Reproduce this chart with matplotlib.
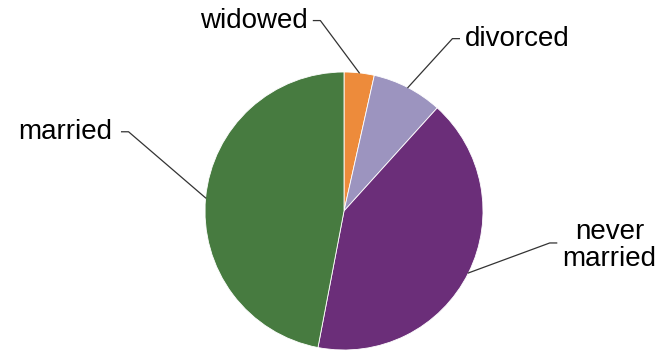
import matplotlib.pyplot as plt
import numpy as np

plt.rcParams['font.family'] = ['Liberation Sans', 'DejaVu Sans']

labels = ['widowed', 'divorced', 'never\nmarried', 'married']
values = [3.5, 8.2, 41.3, 47.0]
colors = ['#ED8B3B', '#9C94BF', '#6B2E79', '#477B40']

# elbow of leader line and text anchor (data units, pie radius = 1)
elbows = [(-0.17, 1.37), (0.78, 1.24), (1.48, -0.23), (-1.55, 0.57)]
text_pos = [(-0.26, 1.37, 'right'), (0.87, 1.24, 'left'), (1.91, -0.25, 'center'), (-1.67, 0.57, 'right')]

fig = plt.figure(figsize=(6.6, 3.51), dpi=100)
ax = fig.add_axes([205 / 660, 1 / 351, 278 / 660, 278 / 351])
wedges, _ = ax.pie(values, colors=colors, startangle=90, counterclock=False,
                   wedgeprops=dict(edgecolor='white', linewidth=0.6))
ax.set_xlim(-1, 1)
ax.set_ylim(-1, 1)
ax.set_aspect('equal')
ax.axis('off')

for w, lab, (ex, ey), (tx, ty, ha) in zip(wedges, labels, elbows, text_pos):
    mid = np.deg2rad((w.theta1 + w.theta2) / 2)
    px, py = np.cos(mid), np.sin(mid)
    sx = ex - 0.05 if ha == 'right' else ex + 0.05
    ax.plot([px, ex, sx], [py, ey, ey], color='#333333', lw=0.9, clip_on=False)
    ax.text(tx, ty, lab, ha=ha, va='center', fontsize=20, color='black',
            multialignment='center', linespacing=1.05)

plt.savefig('out.png', dpi=100)
plt.close()
